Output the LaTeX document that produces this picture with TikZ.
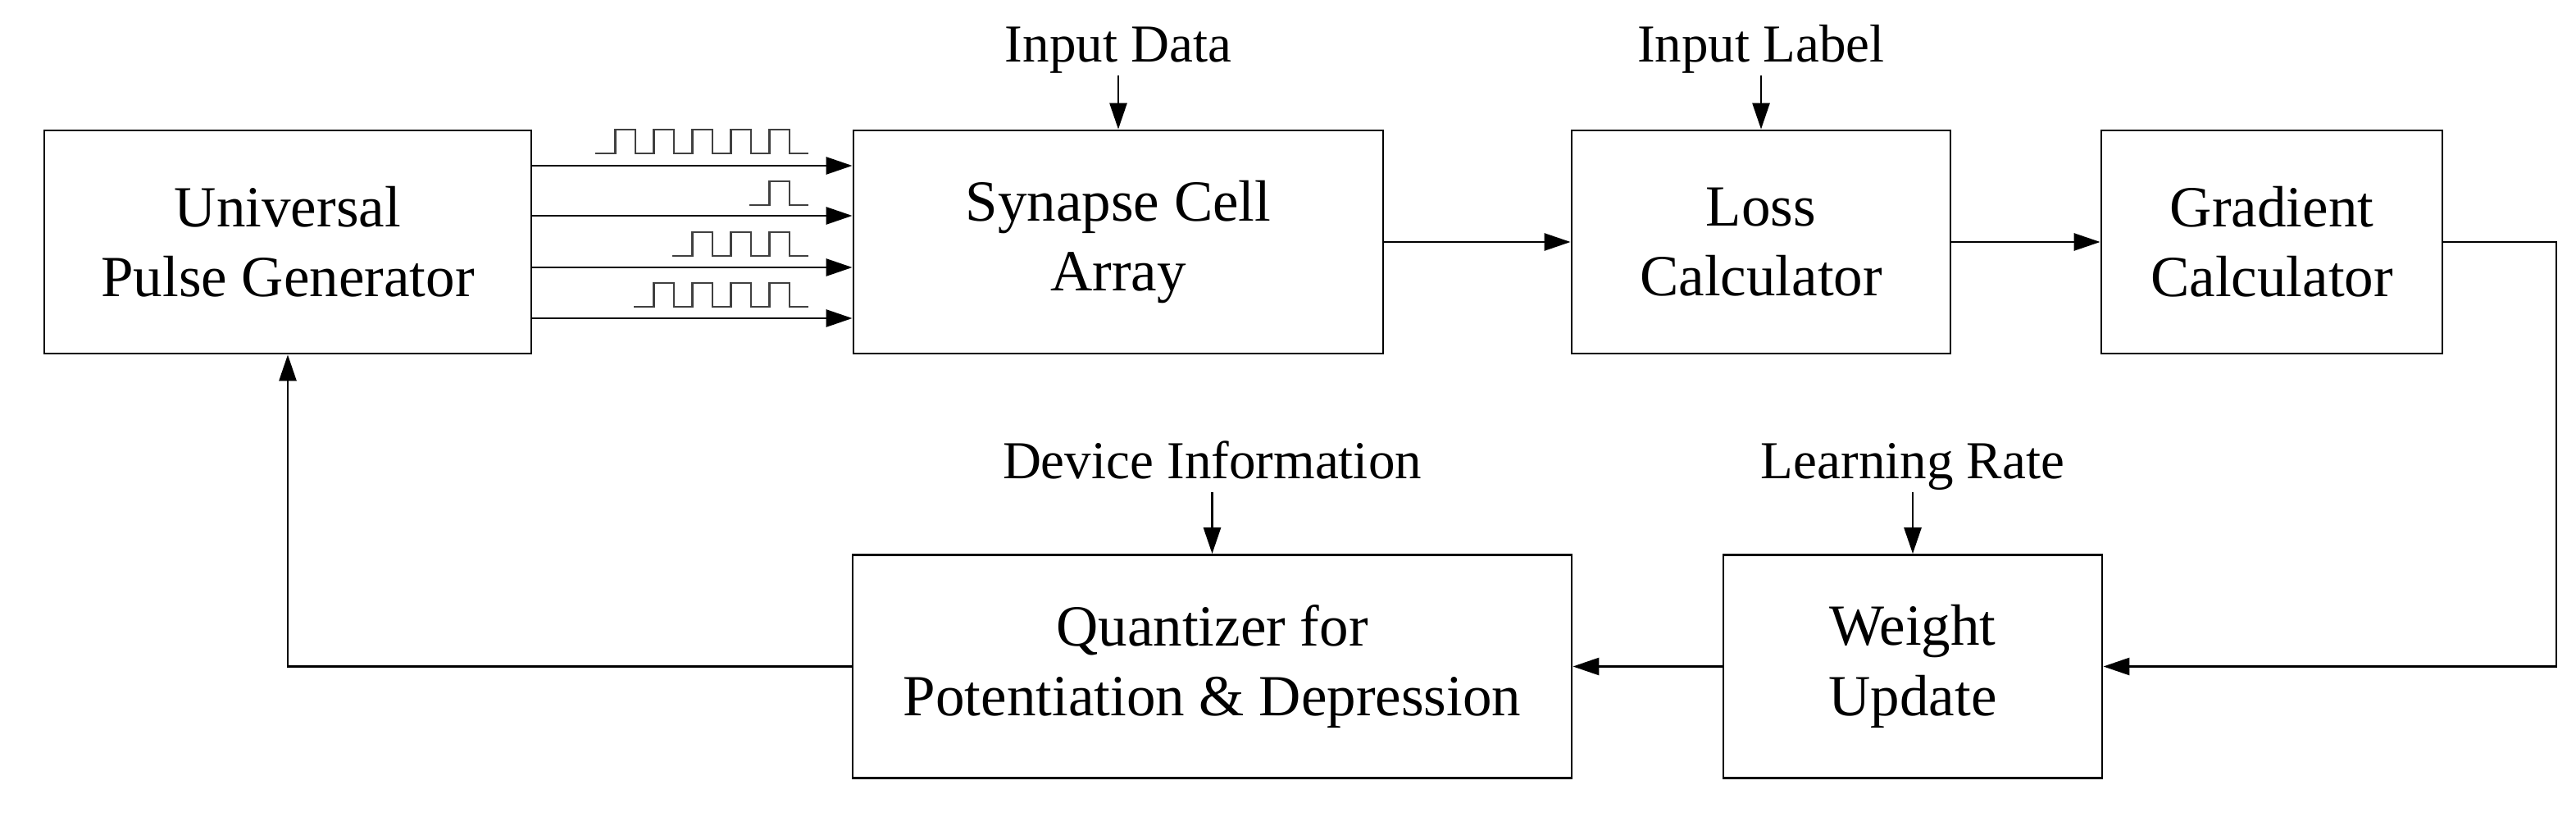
\documentclass[tikz,border=0pt]{standalone}
\usepackage{fontspec}
\setmainfont{Liberation Serif}
\usetikzlibrary{arrows.meta,positioning}

% a train of #1 square pulses sitting on baseline #2
\newcommand{\pulses}[2]{%
  \pgfmathsetmacro{\xstart}{9.63-(#1-1)*0.47-0.49}
  \draw[pulse] (\xstart,#2) -- ++(0.245,0)
    \foreach \k in {1,...,#1} { -- ++(0,0.29) -- ++(0.245,0) -- ++(0,-0.29) -- ++(0.225,0) };
}

\begin{document}
\begin{tikzpicture}[>={Triangle[length=3.2mm,width=2.1mm]},
    font=\fontsize{20.2}{24.3}\selectfont, line width=0.8pt,
    blk/.style={draw, minimum height=2.72cm, align=center, inner sep=0pt},
    lbl/.style={inner sep=0pt, text depth=0.15cm, font=\fontsize{18.5}{22}\selectfont},
    pulse/.style={black!75, line width=0.7pt}]
    \useasboundingbox (0,0) rectangle (31.42,9.95);

    % upper row
    \node[blk, minimum width=5.94cm] (upg)  at (3.51,7.00)  {Universal\\Pulse Generator};
    \node[blk, minimum width=6.46cm] (syn)  at (13.64,7.00) {Synapse Cell\\Array};
    \node[blk, minimum width=4.62cm] (loss) at (21.48,7.00) {Loss\\Calculator};
    \node[blk, minimum width=4.16cm] (grad) at (27.71,7.00) {Gradient\\Calculator};

    % lower row
    \node[blk, minimum width=8.77cm] (quant) at (14.785,1.825) {Quantizer for\\Potentiation \& Depression};
    \node[blk, minimum width=4.62cm] (wu)    at (23.33,1.825)  {Weight\\Update};

    % external inputs
    \node[lbl, above=0.66cm of syn]   (indata) {Input Data};
    \node[lbl, above=0.66cm of loss]  (inlab)  {Input Label};
    \node[lbl, above=0.75cm of quant] (devinf) {Device Information};
    \node[lbl, above=0.75cm of wu]    (lrate)  {Learning Rate};

    \draw[->] (indata.south) -- (syn.north);
    \draw[->] (inlab.south) -- (loss.north);
    \draw[->] (devinf.south) -- (quant.north);
    \draw[->] (lrate.south) -- (wu.north);

    % pulse lines
    \foreach \dy in {0.93,0.32,-0.31,-0.93}
        \draw[->] ([yshift=\dy cm]upg.east) -- ([yshift=\dy cm]syn.west);
    \pulses{5}{8.08}
    \pulses{1}{7.45}
    \pulses{3}{6.83}
    \pulses{4}{6.21}

    % main loop
    \coordinate (turnR) at (31.18,7.00);
    \draw[->] (syn) -- (loss);
    \draw[->] (loss) -- (grad);
    \draw[->] (grad.east) -- (turnR) |- (wu.east);
    \draw[->] (wu) -- (quant);
    \draw[->] (quant.west) -| (upg.south);
\end{tikzpicture}
\end{document}
